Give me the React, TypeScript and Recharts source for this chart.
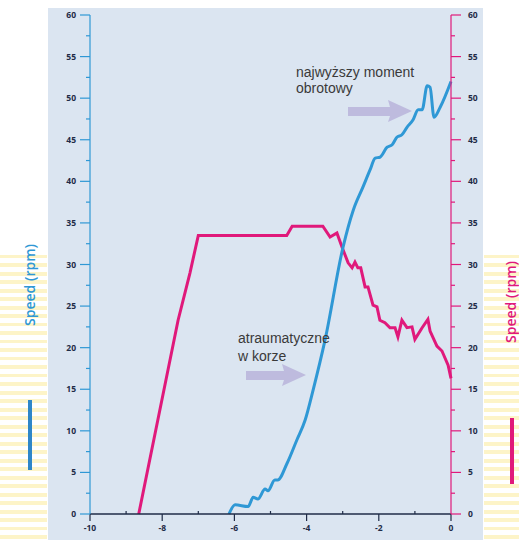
import React from 'react';
import { LineChart, Line, XAxis, YAxis } from 'recharts';

const BLUE = '#2f98d5';
const PINK = '#e0197b';
const NAVY = '#1f2b47';

// blue speed trace (left axis)
const blueX = [-6.15, -5.98, -5.62, -5.48, -5.35, -5.15, -5.07, -4.88, -4.8, -4.54, -4.27, -4.04, -3.82, -3.49, -2.99, -2.71, -2.44, -2.24, -2.1, -1.97, -1.77, -1.63, -1.5, -1.36, -1.22, -1.05, -0.91, -0.8, -0.66, -0.58, -0.47, -0.3, 0];
const blueY = [0, 1.1, 0.9, 2.0, 1.8, 3.0, 2.8, 4.1, 4.1, 6.1, 8.9, 11.3, 14.9, 20.9, 32.1, 36.5, 39.3, 41.4, 42.8, 42.9, 44.1, 44.4, 45.3, 45.6, 46.5, 47.4, 48.6, 48.6, 51.5, 51.3, 47.7, 48.9, 52];

// pink speed trace (right axis)
const pinkX = [-8.65, -7.56, -7.23, -7.0, -4.55, -4.4, -3.55, -3.35, -3.16, -3.02, -2.85, -2.74, -2.66, -2.58, -2.5, -2.38, -2.3, -2.16, -2.05, -1.97, -1.83, -1.69, -1.55, -1.47, -1.36, -1.22, -1.08, -1.0, -0.8, -0.64, -0.58, -0.39, -0.25, -0.08, 0];
const pinkY = [0, 23.3, 29, 33.5, 33.5, 34.6, 34.6, 33.3, 33.8, 32.1, 30.2, 29.6, 30.3, 29.6, 29.6, 27.3, 27.3, 25.1, 24.9, 23.3, 23.0, 22.4, 22.4, 21.3, 23.3, 22.4, 22.5, 21.0, 22.4, 23.4, 22.0, 20.2, 19.6, 17.9, 16.3];

const xTicks = [-10, -9, -8, -7, -6, -5, -4, -3, -2, -1, 0];
const yTicks = [0, 2.5, 5, 7.5, 10, 12.5, 15, 17.5, 20, 22.5, 25, 27.5, 30, 32.5, 35, 37.5, 40, 42.5, 45, 47.5, 50, 52.5, 55, 57.5, 60];

const blueData = blueX.map((x, i) => ({ x, v: blueY[i] }));
const pinkData = pinkX.map((x, i) => ({ x, v: pinkY[i] }));

const labelStyle = { fontFamily: '"Open Sans", sans-serif', fontWeight: 700, fontSize: 8.5, fill: NAVY };

const LeftTick = (props: any) => {
  const { x, y, payload } = props;
  const major = payload.value % 5 === 0;
  return (
    <g>
      <line x1={x} x2={x - (major ? 10 : 4)} y1={y} y2={y} stroke={BLUE} strokeWidth={1.2} />
      {major && (
        <text x={x - 14} y={y + 3} textAnchor="end" style={labelStyle}>{payload.value}</text>
      )}
    </g>
  );
};

const RightTick = (props: any) => {
  const { x, y, payload } = props;
  const major = payload.value % 5 === 0;
  return (
    <g>
      <line x1={x} x2={x + (major ? 10 : 4)} y1={y} y2={y} stroke={PINK} strokeWidth={1.2} />
      {major && (
        <text x={x + 17} y={y + 3} textAnchor="start" style={labelStyle}>{payload.value}</text>
      )}
    </g>
  );
};

const BottomTick = (props: any) => {
  const { x, y, payload } = props;
  const major = payload.value % 2 === 0;
  return (
    <g>
      <line x1={x} x2={x} y1={y} y2={major ? y + 7 : y - 3} stroke={NAVY} strokeWidth={1.2} />
      {major && (
        <text x={x} y={y + 17} textAnchor="middle" style={labelStyle}>{payload.value}</text>
      )}
    </g>
  );
};

const stripes = 'repeating-linear-gradient(to bottom, #fdf4c8 0px, #fdf4c8 3.5px, #ffffff 3.5px, #ffffff 8.5px)';

export default function App() {
  return (
    <div style={{ position: 'absolute', left: 0, top: 0, width: 519, height: 540, background: '#fff', overflow: 'hidden' }}>
      <div style={{ position: 'absolute', left: 0, top: 255, width: 47, height: 285, background: stripes }} />
      <div style={{ position: 'absolute', left: 484, top: 255, width: 35, height: 285, background: stripes }} />
      <div style={{ position: 'absolute', left: 48, top: 8, width: 435, height: 532, background: '#dbe5f1' }} />
      <div style={{ position: 'absolute', left: 0, top: 0 }}>
        <LineChart width={519} height={540} margin={{ top: 15, right: 0, bottom: 0, left: 0 }}>
          <XAxis
            type="number"
            dataKey="x"
            domain={[-10, 0]}
            ticks={xTicks}
            interval={0}
            height={26}
            stroke={NAVY}
            strokeWidth={1.5}
            tickSize={0}
            tickMargin={0}
            tickLine={false}
            tick={<BottomTick />}
          />
          <YAxis
            yAxisId="left"
            orientation="left"
            type="number"
            domain={[0, 60]}
            ticks={yTicks}
            interval={0}
            width={90}
            stroke={BLUE}
            strokeWidth={1.2}
            tickSize={0}
            tickMargin={0}
            tickLine={false}
            tick={<LeftTick />}
          />
          <YAxis
            yAxisId="right"
            orientation="right"
            type="number"
            domain={[0, 60]}
            ticks={yTicks}
            interval={0}
            width={68}
            stroke={PINK}
            strokeWidth={1.2}
            tickSize={0}
            tickMargin={0}
            tickLine={false}
            tick={<RightTick />}
          />
          <Line yAxisId="right" data={pinkData} dataKey="v" type="linear" stroke={PINK} strokeWidth={3} dot={false} isAnimationActive={false} />
          <Line yAxisId="left" data={blueData} dataKey="v" type="monotone" stroke={BLUE} strokeWidth={3} dot={false} isAnimationActive={false} />
        </LineChart>
      </div>
      <svg width={519} height={540} style={{ position: 'absolute', left: 0, top: 0, pointerEvents: 'none' }}>
        <g fill="#b8b4da" opacity={0.85}>
          <path d="M348,107 L390,107 L388,100 L412,111 L388,122 L390,116 L348,116 Z" />
          <path d="M246,371 L284,371 L282,364 L306,375 L282,386 L284,380 L246,380 Z" />
        </g>
        <g style={{ fontFamily: '"Liberation Sans", Arial, sans-serif', fontSize: 14 }} fill="#3a3a3a">
          <text x={296} y={77}>najwyższy moment</text>
          <text x={296} y={93}>obrotowy</text>
          <text x={238} y={343}>atraumatyczne</text>
          <text x={238} y={361}>w korze</text>
        </g>
        <g style={{ fontFamily: '"Open Sans", sans-serif', fontSize: 14, fontWeight: 600 }}>
          <text x={35} y={285} fill={BLUE} textAnchor="middle" transform="rotate(-90 35 285)">Speed (rpm)</text>
          <text x={516} y={302} fill={PINK} textAnchor="middle" transform="rotate(-90 516 302)">Speed (rpm)</text>
        </g>
        <rect x={28} y={400} width={4} height={70} fill="#2e86c8" />
        <rect x={510} y={418} width={4} height={66} fill={PINK} />
      </svg>
    </div>
  );
}
